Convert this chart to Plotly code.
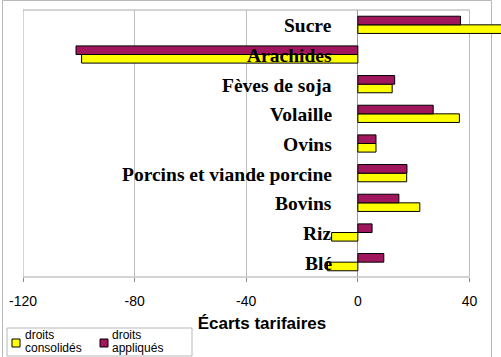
import plotly.graph_objects as go

categories = ["Sucre", "Arachides", "Fèves de soja", "Volaille", "Ovins",
              "Porcins et viande porcine", "Bovins", "Riz", "Blé"]
droits_consolides = [55, -99, 12.3, 36.4, 6.5, 17.5, 22.2, -9.4, -10.9]
droits_appliques = [36.8, -101, 13.2, 27, 6.5, 17.6, 14.7, 5.1, 9.3]
tick_values = [-120, -80, -40, 0, 40]
tick_labels = ["-120", "-80", "-40", "0", "40"]
x_title = "Écarts tarifaires"
series_names = ["droits consolidés", "droits appliqués"]
legend_lines = [["droits", "consolidés"], ["droits", "appliqués"]]

YELLOW = "#FFFF00"
PURPLE = "#A0175E"
colors = [YELLOW, PURPLE]

W, H = 501, 357
ML, MR, MT, MB = 23, 0, 10, 80
PW, PH = W - ML - MR, H - MT - MB


def px(xpix):
    return (xpix - ML) / PW


def py(ypix):
    return (H - MB - ypix) / PH


fig = go.Figure()
fig.add_trace(go.Bar(y=categories, x=droits_consolides, orientation="h",
                     name=series_names[0],
                     marker=dict(color=YELLOW, line=dict(color="black", width=1))))
fig.add_trace(go.Bar(y=categories, x=droits_appliques, orientation="h",
                     name=series_names[1],
                     marker=dict(color=PURPLE, line=dict(color="black", width=1))))

for c in categories:
    fig.add_annotation(x=0, y=c, xref="x", yref="y", text="<b>%s</b>" % c,
                       showarrow=False, xanchor="right", yanchor="middle",
                       xshift=-24, yshift=-1,
                       font=dict(family="Liberation Serif", size=19.5, color="black"))

# plot frame (inner) and chart frame (outer)
fig.add_shape(type="rect", xref="x", yref="paper", x0=tick_values[0], x1=tick_values[-1],
              y0=0, y1=1, line=dict(color="#a8a8a8", width=1), layer="below")
fig.add_shape(type="rect", xref="paper", yref="paper", x0=px(2.5), x1=px(491.5),
              y0=py(358), y1=py(0.5), line=dict(color="#b8b8b8", width=1), layer="below")

# legend (drawn manually to match the original layout)
fig.add_shape(type="rect", xref="paper", yref="paper", x0=px(7), x1=px(192),
              y0=py(356), y1=py(328), line=dict(color="#b8b8b8", width=1),
              fillcolor="white", layer="above")
key_x = [12, 100]
text_x = [24, 111]
for i in range(2):
    fig.add_shape(type="rect", xref="paper", yref="paper",
                  x0=px(key_x[i]), x1=px(key_x[i] + 8), y0=py(347), y1=py(339),
                  line=dict(color="black", width=1), fillcolor=colors[i], layer="above")
    for j, (line_text, ycen) in enumerate(zip(legend_lines[i], [335, 348])):
        fig.add_annotation(xref="paper", yref="paper", x=px(text_x[i]), y=py(ycen),
                           text=line_text, showarrow=False, xanchor="left",
                           yanchor="middle", borderpad=0,
                           font=dict(family="Liberation Sans", size=12, color="black"))

fig.update_layout(
    width=W, height=H,
    margin=dict(l=ML, r=MR, t=MT, b=MB, autoexpand=False),
    paper_bgcolor="white", plot_bgcolor="white",
    barmode="group", bargap=0.42, bargroupgap=0,
    showlegend=False,
    xaxis=dict(range=[-120, 51.3], tickvals=tick_values, ticktext=tick_labels,
               showgrid=True, gridcolor="#c0c0c0", gridwidth=1,
               zeroline=True, zerolinecolor="#9a9a9a", zerolinewidth=1,
               ticks="outside", ticklen=4, tickcolor="#8a8a8a",
               ticklabelstandoff=7,
               showline=False,
               tickfont=dict(family="Liberation Sans", size=14, color="black"),
               title=dict(text="<b>%s</b>" % x_title, standoff=9,
                          font=dict(family="Liberation Sans", size=17, color="black"))),
    yaxis=dict(type="category", categoryorder="array", categoryarray=categories[::-1],
               showticklabels=False, showgrid=False, zeroline=False, showline=False,
               ticks=""),
)

fig.write_html("out.html", config={"displayModeBar": False},
               post_script="document.body.style.margin='0px';document.body.style.overflow='hidden';")
